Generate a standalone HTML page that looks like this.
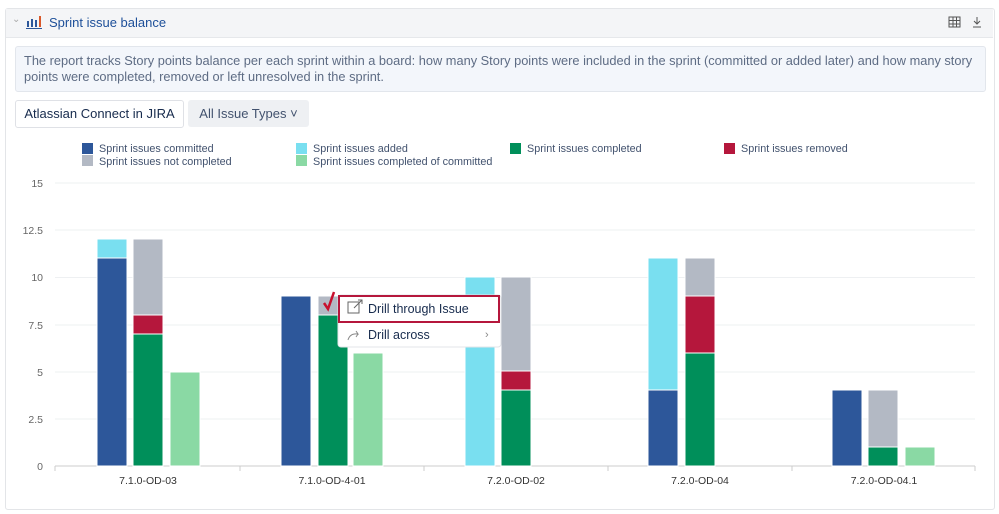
<!DOCTYPE html>
<html><head><meta charset="utf-8"><style>
body{margin:0;width:999px;height:514px;background:#fff;font-family:"Liberation Sans",sans-serif;position:relative;overflow:hidden}
.a{position:absolute}
</style></head><body>
<div class="a" style="left:5px;top:8px;width:988px;height:500px;border:1px solid #e3e5e8;border-radius:3px"></div>
<div class="a" style="left:6px;top:9px;width:987px;height:28px;background:#f4f5f7;border-bottom:1px solid #e6e8eb"></div>
<div class="a" style="left:12px;top:14px;font-size:10px;color:#aaa">⌄</div>
<svg class="a" style="left:25px;top:14px" width="18" height="16"><rect x="2" y="7" width="2" height="6" fill="#2d579a"/><rect x="6" y="5" width="2" height="8" fill="#2d579a"/><rect x="10" y="6" width="2" height="7" fill="#2d579a"/><rect x="14" y="2" width="2" height="11" fill="#d9582a"/><rect x="1" y="14" width="16" height="1" fill="#2d579a"/></svg>
<div class="a" style="left:49px;top:15px;font-size:13px;color:#1d4f99">Sprint issue balance</div>
<svg class="a" style="left:948px;top:16px" width="40" height="14"><rect x="1" y="1" width="11" height="10" fill="none" stroke="#555" stroke-width="1"/><path d="M1 4.5h11M1 8h11M5 1v10M8.5 1v10" stroke="#555" stroke-width="1"/><path d="M29 1v7M26 5l3 3 3-3M25 11h8" stroke="#555" fill="none"/></svg>
<div class="a" style="left:15px;top:46px;width:953px;height:34px;padding:6px 8px 4px;background:#f3f6fb;border:1px solid #e2e6ec;border-radius:3px;font-size:12.8px;line-height:16px;color:#5e6c84">The report tracks Story points balance per each sprint within a board: how many Story points were included in the sprint (committed or added later) and how many story points were completed, removed or left unresolved in the sprint.</div>
<div class="a" style="left:15px;top:100px;width:167px;height:26px;border:1px solid #dfe1e6;border-radius:3px;font-size:13px;line-height:26px;text-align:center;color:#172b4d">Atlassian Connect in JIRA</div>
<div class="a" style="left:188px;top:100px;width:121px;height:27px;background:#eef0f3;border-radius:3px;font-size:13px;line-height:27px;text-align:center;color:#42526e">All Issue Types ˅</div>
<svg class="a" style="left:0;top:0" width="999" height="514" font-family="Liberation Sans, sans-serif">
<g font-size="10.8" fill="#42526e">
<rect x="82" y="143" width="11" height="11" fill="#2d579a"/><text x="99" y="152">Sprint issues committed</text>
<rect x="82" y="155" width="11" height="11" fill="#b3b9c4"/><text x="99" y="165">Sprint issues not completed</text>
<rect x="296" y="143" width="11" height="11" fill="#79dff0"/><text x="313" y="152">Sprint issues added</text>
<rect x="296" y="155" width="11" height="11" fill="#8ad9a4"/><text x="313" y="165">Sprint issues completed of committed</text>
<rect x="510" y="143" width="11" height="11" fill="#008f5a"/><text x="527" y="152">Sprint issues completed</text>
<rect x="724" y="143" width="11" height="11" fill="#b5173c"/><text x="741" y="152">Sprint issues removed</text>
</g>
<g stroke="#eef0f2"><path d="M55 183H975M55 230H975M55 277.5H975M55 325H975M55 372H975M55 419H975"/></g>
<path d="M55 466H975" stroke="#ccc"/>
<path d="M55 466v5M240 466v5M424 466v5M608 466v5M792 466v5M975 466v5" stroke="#ccc"/>
<g font-size="10.5" fill="#666" text-anchor="end">
<text x="43" y="187">15</text><text x="43" y="234">12.5</text><text x="43" y="281">10</text><text x="43" y="329">7.5</text><text x="43" y="376">5</text><text x="43" y="423">2.5</text><text x="43" y="470">0</text></g>
<g font-size="10.5" fill="#333" text-anchor="middle">
<text x="148" y="484">7.1.0-OD-03</text><text x="332" y="484">7.1.0-OD-4-01</text><text x="516" y="484">7.2.0-OD-02</text><text x="700" y="484">7.2.0-OD-04</text><text x="884" y="484">7.2.0-OD-04.1</text></g>
<g stroke="#fff" stroke-width="1">
<rect x="97" y="258" width="30" height="208" fill="#2d579a"/><rect x="97" y="239" width="30" height="19" fill="#79dff0"/>
<rect x="133" y="334" width="30" height="132" fill="#008f5a"/><rect x="133" y="315" width="30" height="19" fill="#b5173c"/><rect x="133" y="239" width="30" height="76" fill="#b3b9c4"/>
<rect x="170" y="372" width="30" height="94" fill="#8ad9a4"/>
<rect x="281" y="296" width="30" height="170" fill="#2d579a"/>
<rect x="318" y="315" width="30" height="151" fill="#008f5a"/><rect x="318" y="296" width="30" height="19" fill="#b3b9c4"/>
<rect x="353" y="353" width="30" height="113" fill="#8ad9a4"/>
<rect x="465" y="277" width="30" height="189" fill="#79dff0"/>
<rect x="501" y="390" width="30" height="76" fill="#008f5a"/><rect x="501" y="371" width="30" height="19" fill="#b5173c"/><rect x="501" y="277" width="30" height="94" fill="#b3b9c4"/>
<rect x="648" y="390" width="30" height="76" fill="#2d579a"/><rect x="648" y="258" width="30" height="132" fill="#79dff0"/>
<rect x="685" y="353" width="30" height="113" fill="#008f5a"/><rect x="685" y="296" width="30" height="57" fill="#b5173c"/><rect x="685" y="258" width="30" height="38" fill="#b3b9c4"/>
<rect x="832" y="390" width="30" height="76" fill="#2d579a"/>
<rect x="868" y="447" width="30" height="19" fill="#008f5a"/><rect x="868" y="390" width="30" height="57" fill="#b3b9c4"/>
<rect x="905" y="447" width="30" height="19" fill="#8ad9a4"/>
</g>
<path d="M324 303l4 6 6-17" stroke="#c8102e" stroke-width="2.5" fill="none"/>
<rect x="338" y="295" width="163" height="52" rx="3" fill="#fff" stroke="#e3e5e8"/>
<rect x="339" y="296" width="160" height="26" fill="#fff" stroke="#b5173c" stroke-width="2"/>
<rect x="348" y="302" width="11" height="11" fill="none" stroke="#666"/><path d="M354 308l8-8M358 300h4v4" stroke="#666" fill="none"/>
<text x="368" y="313" font-size="12.5" fill="#172b4d">Drill through Issue</text>
<path d="M348 340q2-7 10-6l-2-3M358 334l-2 3" stroke="#888" fill="none"/>
<text x="368" y="339" font-size="12.5" fill="#172b4d">Drill across</text>
<text x="485" y="338" font-size="11" fill="#888">›</text>
</svg>
</body></html>
